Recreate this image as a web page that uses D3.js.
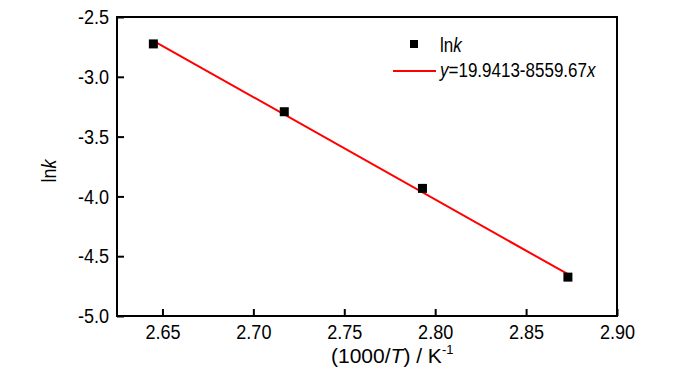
<!DOCTYPE html>
<html>
<head>
<meta charset="utf-8">
<script src="https://cdn.jsdelivr.net/npm/d3@7"></script>
<style>
	body { margin: 0; background: #fff; }
	text { font-family: "Liberation Sans", Arial, sans-serif; fill: #000; }
</style>
</head>
<body>
<svg id="chart" width="700" height="374"></svg>
<script>

// measured points, x = 1000/T
var invT = [2.645, 2.717, 2.793, 2.873];
var lnk = [-2.725, -3.292, -3.933, -4.675];

// linear fit from the legend
var FIT_A = 19.9413;
var FIT_B = -8.55967;

var xTicks = [2.65, 2.70, 2.75, 2.80, 2.85, 2.90];
var yTicks = [-2.5, -3.0, -3.5, -4.0, -4.5, -5.0];

// the reference uses a narrow sans for ticks and legend
var NARROW = 0.86;
var NARROW_LEG = 0.81;

var margin = {left: 117, top: 17, right: 83, bottom: 58};
var W = 700 - margin.left - margin.right;
var H = 374 - margin.top - margin.bottom;

var svg = d3.select("#chart");
var g = svg.append("g")
	.attr("transform", "translate(" + margin.left + "," + margin.top + ")");

var x = d3.scaleLinear().domain([2.625, 2.90]).range([0, W]);
var y = d3.scaleLinear().domain([-5.0, -2.5]).range([H, 0]);

var loc = d3.formatLocale({decimal: ".", thousands: ",", grouping: [3], currency: ["", ""], minus: "-"});

// frame
g.append("rect")
	.attr("width", W)
	.attr("height", H)
	.style("fill", "none")
	.style("stroke", "#000")
	.style("stroke-width", 2);

var xAxis = g.append("g")
	.attr("transform", "translate(0," + H + ")")
	.call(d3.axisBottom(x).tickValues(xTicks).tickSizeInner(-7).tickSizeOuter(0)
		.tickFormat(loc.format(".2f")).tickPadding(8));

var yAxis = g.append("g")
	.call(d3.axisLeft(y).tickValues(yTicks).tickSizeInner(-7).tickSizeOuter(0)
		.tickFormat(loc.format(".1f")).tickPadding(8));

[xAxis, yAxis].forEach(function(a) {
	a.select(".domain").remove();
	a.selectAll("line").style("stroke", "#000").style("stroke-width", 2);
	a.selectAll("text")
		.style("font-size", "21px")
		.attr("x", function() { return +d3.select(this).attr("x") / NARROW; })
		.attr("transform", "scale(" + NARROW + ",1)");
});

// fit line over the data range
var ext = d3.extent(invT);
var line = d3.line()
	.x(function(d) { return x(d); })
	.y(function(d) { return y(FIT_A + FIT_B * d); });

g.append("path")
	.datum(ext)
	.attr("d", line)
	.style("fill", "none")
	.style("stroke", "#ff0000")
	.style("stroke-width", 2);

var SQ = 9;
g.selectAll("rect.pt")
	.data(invT)
	.enter().append("rect")
	.attr("class", "pt")
	.attr("x", function(d) { return x(d) - SQ / 2; })
	.attr("y", function(d, i) { return y(lnk[i]) - SQ / 2; })
	.attr("width", SQ)
	.attr("height", SQ)
	.style("fill", "#000");

function label(px, py, sx, extra) {
	return svg.append("text")
		.attr("transform", "translate(" + px + "," + py + ")" + (extra || "") + " scale(" + sx + ",1)")
		.style("font-size", "21px");
}

// legend
svg.append("rect")
	.attr("x", 410).attr("y", 40).attr("width", 8).attr("height", 8)
	.style("fill", "#000");
var t1 = label(440, 52, NARROW_LEG);
t1.append("tspan").text("ln");
t1.append("tspan").style("font-style", "italic").text("k");

svg.append("line")
	.attr("x1", 393).attr("x2", 436).attr("y1", 71).attr("y2", 71)
	.style("stroke", "#ff0000").style("stroke-width", 2);
var t2 = label(440, 77, NARROW_LEG);
t2.append("tspan").style("font-style", "italic").text("y");
t2.append("tspan").text("=19.9413-8559.67");
t2.append("tspan").style("font-style", "italic").text("x");

// axis titles
var yl = label(56, 171, NARROW, " rotate(-90)").attr("text-anchor", "middle");
yl.append("tspan").text("ln");
yl.append("tspan").style("font-style", "italic").text("k");

var xl = label(331, 363, 1);
xl.append("tspan").text("(1000/");
xl.append("tspan").style("font-style", "italic").text("T");
xl.append("tspan").text(") / K");
xl.append("tspan").attr("dy", -9).style("font-size", "13px").text("-1");

</script>
</body>
</html>
